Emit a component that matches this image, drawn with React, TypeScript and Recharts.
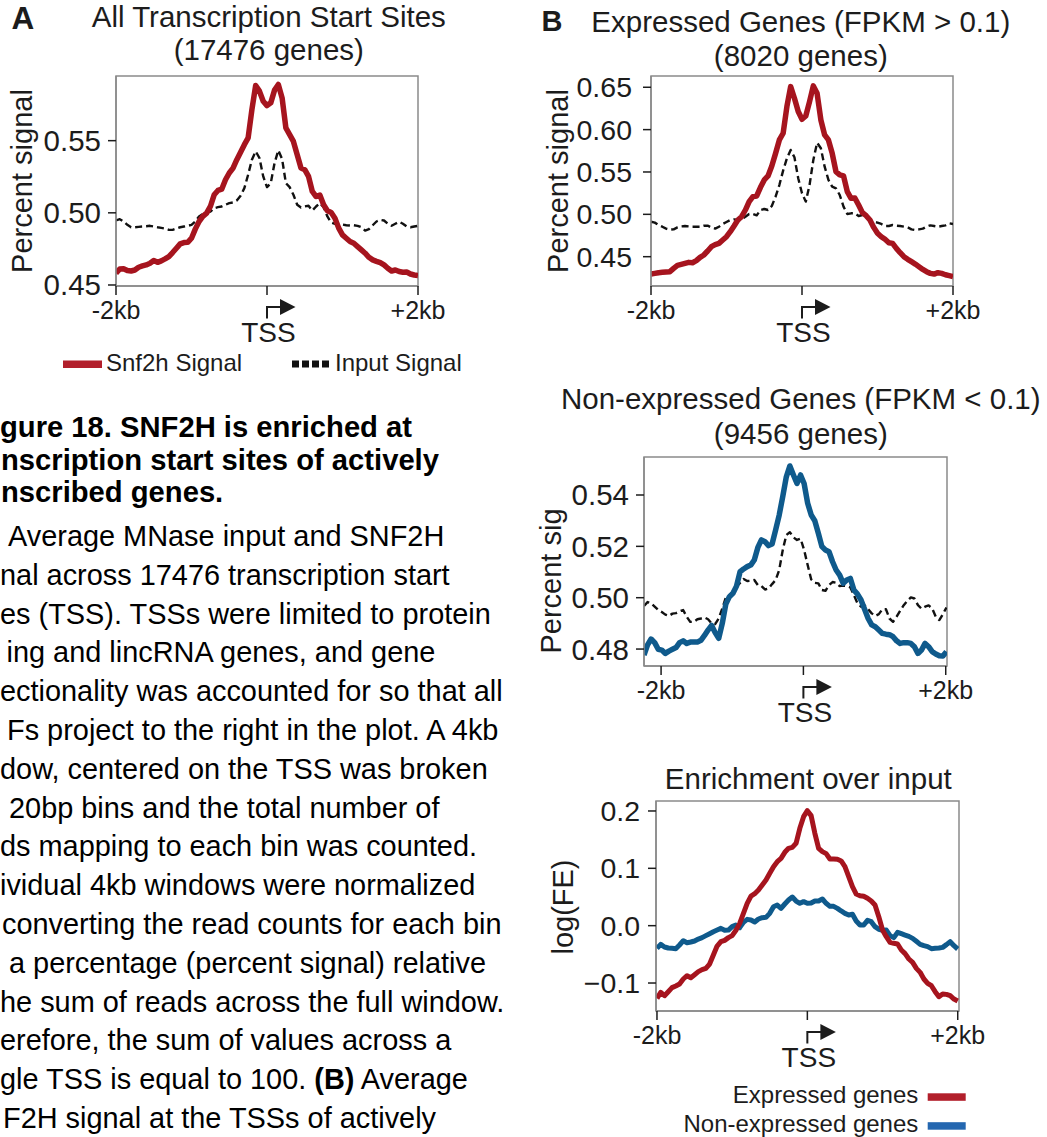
import React from 'react';
import { LineChart, Line, XAxis, YAxis, ReferenceArea } from 'recharts';

const FONT = '"Liberation Sans", Arial, Helvetica, sans-serif';
const RED = '#a6141e';
const BLUE = '#0f5a8c';
const INK = '#1c1c1c';
const FRAME = '#8a8a8a';

// bin positions, bp relative to the TSS
const binsMain = Array.from({ length: 81 }, (_, i) => -2000 + i * 50);
const binsNonExpr = Array.from({ length: 86 }, (_, i) => -2240 + i * 50);

const xTicks = [-2000, 0, 2000];
const xTickLabels = ['-2kb', 'TSS', '+2kb'];

const yTicksAll = [0.45, 0.5, 0.55];
const yTicksExpr = [0.45, 0.5, 0.55, 0.6, 0.65];
const yTicksNon = [0.48, 0.5, 0.52, 0.54];
const yTicksEnrich = [-0.1, 0, 0.1, 0.2];

// A: all TSS
const allSnf2h = [
  0.4581, 0.4611, 0.4613, 0.4600, 0.4597, 0.4604, 0.4623, 0.4632, 0.4639, 0.4650,
  0.4669, 0.4657, 0.4667, 0.4681, 0.4697, 0.4725, 0.4755, 0.4785, 0.4794, 0.4796,
  0.4824, 0.4887, 0.4940, 0.4975, 0.4998, 0.5044, 0.5125, 0.5155, 0.5164, 0.5229,
  0.5276, 0.5310, 0.5368, 0.5419, 0.5472, 0.5519, 0.5715, 0.5882, 0.5843, 0.5773,
  0.5743, 0.5762, 0.5850, 0.5889, 0.5796, 0.5588, 0.5542, 0.5495, 0.5403, 0.5310,
  0.5299, 0.5252, 0.5148, 0.5113, 0.5123, 0.5056, 0.5014, 0.5002, 0.4963, 0.4894,
  0.4847, 0.4824, 0.4801, 0.4789, 0.4766, 0.4743, 0.4720, 0.4692, 0.4674, 0.4664,
  0.4655, 0.4639, 0.4616, 0.4597, 0.4604, 0.4593, 0.4588, 0.4590, 0.4576, 0.4569,
  0.4565,
];
const allInput = [
  0.4947, 0.4956, 0.4940, 0.4917, 0.4900, 0.4900, 0.4903, 0.4905, 0.4907, 0.4910,
  0.4905, 0.4900, 0.4896, 0.4891, 0.4882, 0.4882, 0.4891, 0.4900, 0.4905, 0.4910,
  0.4917, 0.4940, 0.4975, 0.4993, 0.5002, 0.5009, 0.5032, 0.5039, 0.5044, 0.5056,
  0.5067, 0.5072, 0.5086, 0.5118, 0.5171, 0.5264, 0.5368, 0.5426, 0.5380, 0.5252,
  0.5178, 0.5206, 0.5345, 0.5433, 0.5373, 0.5206, 0.5178, 0.5125, 0.5056, 0.5037,
  0.5044, 0.5049, 0.5016, 0.5044, 0.5067, 0.5039, 0.4975, 0.4933, 0.4924, 0.4921,
  0.4919, 0.4914, 0.4912, 0.4914, 0.4910, 0.4900, 0.4877, 0.4887, 0.4914, 0.4940,
  0.4951, 0.4947, 0.4924, 0.4910, 0.4924, 0.4938, 0.4924, 0.4905, 0.4900, 0.4905,
  0.4910,
];

// B: expressed genes
const exprSnf2h = [
  0.4295, 0.4303, 0.4311, 0.4315, 0.4319, 0.4323, 0.4362, 0.4398, 0.4409, 0.4421,
  0.4433, 0.4429, 0.4453, 0.4492, 0.4520, 0.4567, 0.4618, 0.4642, 0.4657, 0.4697,
  0.4736, 0.4795, 0.4862, 0.4933, 0.4972, 0.5051, 0.5150, 0.5209, 0.5217, 0.5319,
  0.5406, 0.5453, 0.5571, 0.5720, 0.5878, 0.5957, 0.6272, 0.6508, 0.6370, 0.6213,
  0.6122, 0.6161, 0.6331, 0.6516, 0.6429, 0.6114, 0.5937, 0.5878, 0.5720, 0.5504,
  0.5465, 0.5453, 0.5268, 0.5189, 0.5193, 0.5110, 0.5020, 0.4984, 0.4933, 0.4846,
  0.4776, 0.4736, 0.4705, 0.4665, 0.4657, 0.4598, 0.4547, 0.4500, 0.4469, 0.4441,
  0.4413, 0.4382, 0.4350, 0.4323, 0.4303, 0.4295, 0.4311, 0.4303, 0.4287, 0.4276,
  0.4264,
];
const exprInput = [
  0.4913, 0.4902, 0.4874, 0.4854, 0.4831, 0.4819, 0.4823, 0.4846, 0.4858, 0.4862,
  0.4858, 0.4854, 0.4854, 0.4854, 0.4866, 0.4866, 0.4846, 0.4831, 0.4854, 0.4886,
  0.4909, 0.4933, 0.4941, 0.4933, 0.4933, 0.4972, 0.5004, 0.5004, 0.4988, 0.5051,
  0.5063, 0.5051, 0.5098, 0.5209, 0.5346, 0.5516, 0.5661, 0.5760, 0.5673, 0.5425,
  0.5248, 0.5150, 0.5346, 0.5642, 0.5846, 0.5780, 0.5563, 0.5406, 0.5327, 0.5307,
  0.5228, 0.5091, 0.5004, 0.5012, 0.5012, 0.4980, 0.4992, 0.4965, 0.4933, 0.4913,
  0.4902, 0.4886, 0.4862, 0.4862, 0.4874, 0.4866, 0.4862, 0.4854, 0.4846, 0.4823,
  0.4815, 0.4823, 0.4831, 0.4854, 0.4870, 0.4862, 0.4854, 0.4862, 0.4870, 0.4894,
  0.4886,
];

// non-expressed genes
const nonSnf2h = [
  0.4777, 0.4816, 0.4839, 0.4825, 0.4799, 0.4796, 0.4783, 0.4792, 0.4799, 0.4806,
  0.4825, 0.4832, 0.4822, 0.4827, 0.4827, 0.4827, 0.4834, 0.4853, 0.4874, 0.4892,
  0.4864, 0.4842, 0.4900, 0.4975, 0.5004, 0.5017, 0.5045, 0.5101, 0.5112, 0.5121,
  0.5127, 0.5147, 0.5196, 0.5225, 0.5218, 0.5203, 0.5209, 0.5264, 0.5322, 0.5394,
  0.5471, 0.5513, 0.5478, 0.5445, 0.5478, 0.5445, 0.5368, 0.5322, 0.5300, 0.5251,
  0.5199, 0.5186, 0.5179, 0.5140, 0.5108, 0.5088, 0.5056, 0.5069, 0.5075, 0.5030,
  0.5014, 0.4991, 0.4955, 0.4919, 0.4894, 0.4887, 0.4874, 0.4861, 0.4858, 0.4856,
  0.4848, 0.4832, 0.4822, 0.4825, 0.4825, 0.4822, 0.4809, 0.4783, 0.4796, 0.4822,
  0.4809, 0.4790, 0.4781, 0.4774, 0.4773, 0.4790,
];
const nonInput = [
  0.4968, 0.4983, 0.4978, 0.4965, 0.4952, 0.4944, 0.4934, 0.4929, 0.4938, 0.4940,
  0.4947, 0.4952, 0.4926, 0.4906, 0.4906, 0.4916, 0.4919, 0.4923, 0.4916, 0.4900,
  0.4897, 0.4919, 0.4958, 0.5001, 0.5010, 0.5023, 0.5043, 0.5058, 0.5073, 0.5065,
  0.5066, 0.5069, 0.5049, 0.5045, 0.5032, 0.5036, 0.5053, 0.5069, 0.5108, 0.5186,
  0.5244, 0.5255, 0.5235, 0.5225, 0.5230, 0.5186, 0.5127, 0.5071, 0.5058, 0.5056,
  0.5030, 0.5027, 0.5049, 0.5061, 0.5058, 0.5045, 0.5047, 0.5045, 0.5040, 0.5010,
  0.4978, 0.4965, 0.4970, 0.4955, 0.4939, 0.4929, 0.4936, 0.4955, 0.4955, 0.4919,
  0.4906, 0.4926, 0.4949, 0.4971, 0.4988, 0.5001, 0.4997, 0.4971, 0.4957, 0.4965,
  0.4970, 0.4958, 0.4926, 0.4913, 0.4936, 0.4962,
];

// log fold enrichment over input
const enrichExpr = [
  -0.1267, -0.1163, -0.1221, -0.1151, -0.1081, -0.1052, -0.1017, -0.0930, -0.0872, -0.0907,
  -0.0855, -0.0802, -0.0767, -0.0744, -0.0669, -0.0512, -0.0355, -0.0279, -0.0256, -0.0209,
  -0.0174, -0.0081, 0.0041, 0.0215, 0.0390, 0.0517, 0.0558, 0.0622, 0.0709, 0.0797,
  0.0913, 0.1029, 0.1116, 0.1174, 0.1279, 0.1349, 0.1366, 0.1436, 0.1698, 0.1901,
  0.2006, 0.1919, 0.1610, 0.1349, 0.1291, 0.1256, 0.1163, 0.1163, 0.1157, 0.1128,
  0.1029, 0.0855, 0.0680, 0.0552, 0.0523, 0.0512, 0.0477, 0.0430, 0.0360, 0.0157,
  -0.0076, -0.0192, -0.0291, -0.0308, -0.0320, -0.0424, -0.0488, -0.0581, -0.0640, -0.0744,
  -0.0814, -0.0930, -0.1006, -0.1047, -0.1151, -0.1238, -0.1192, -0.1198, -0.1221, -0.1279,
  -0.1314,
];
const enrichNon = [
  -0.0395, -0.0326, -0.0372, -0.0390, -0.0395, -0.0401, -0.0337, -0.0262, -0.0297, -0.0285,
  -0.0267, -0.0233, -0.0209, -0.0174, -0.0140, -0.0105, -0.0076, -0.0047, -0.0081, -0.0076,
  -0.0017, 0.0012, -0.0035, 0.0058, 0.0110, 0.0099, 0.0064, 0.0116, 0.0140, 0.0145,
  0.0215, 0.0331, 0.0360, 0.0302, 0.0378, 0.0448, 0.0500, 0.0430, 0.0390, 0.0419,
  0.0390, 0.0395, 0.0430, 0.0430, 0.0465, 0.0390, 0.0337, 0.0337, 0.0302, 0.0256,
  0.0215, 0.0186, 0.0198, 0.0081, 0.0012, 0.0012, 0.0093, 0.0070, -0.0017, -0.0064,
  -0.0081, -0.0076, -0.0174, -0.0209, -0.0116, -0.0140, -0.0163, -0.0186, -0.0221, -0.0273,
  -0.0326, -0.0349, -0.0366, -0.0401, -0.0395, -0.0390, -0.0378, -0.0331, -0.0279, -0.0349,
  -0.0407,
];

const rowsAll = binsMain.map((pos, i) => ({ pos, snf2h: allSnf2h[i], input: allInput[i] }));
const rowsExpr = binsMain.map((pos, i) => ({ pos, snf2h: exprSnf2h[i], input: exprInput[i] }));
const rowsNon = binsNonExpr.map((pos, i) => ({ pos, snf2h: nonSnf2h[i], input: nonInput[i] }));
const rowsEnrich = binsMain.map((pos, i) => ({ pos, expr: enrichExpr[i], non: enrichNon[i] }));

const Y_W = 110;
const PAD_T = 10;
const PAD_R = 40;
const X_H = 75;

const XTick = (props: any) => {
  const { x, y, payload } = props;
  const axisY = y - 9;
  const label = xTickLabels[xTicks.indexOf(payload.value)];
  if (payload.value === 0) {
    return (
      <g>
        <path d={`M${x} ${axisY + 32.5}V${axisY + 21}H${x + 15}`} stroke={INK} strokeWidth={2} fill="none" />
        <path d={`M${x + 13} ${axisY + 13}L${x + 28.5} ${axisY + 21}L${x + 13} ${axisY + 29}Z`} fill={INK} />
        <text x={x + 1.5} y={axisY + 56} textAnchor="middle" fontSize={28} fill={INK} fontFamily={FONT}>
          {label}
        </text>
      </g>
    );
  }
  return (
    <text x={x} y={axisY + 33} textAnchor="middle" fontSize={25} fill={INK} fontFamily={FONT}>
      {label}
    </text>
  );
};

type Series = { key: string; color: string; width: number; dash?: string };

const ProfilePanel = ({ box, rows, xDomain, yDomain, yTicks, digits, tickMargin, tickFont, series }: any) => {
  const fmt = (v: number) => (v < 0 ? '\u2212' + Math.abs(v).toFixed(digits) : v.toFixed(digits));
  const w = box.w + Y_W + PAD_R;
  const h = box.h + PAD_T + X_H;
  return (
    <div style={{ position: 'absolute', left: box.x - Y_W, top: box.y - PAD_T, width: w, height: h }}>
      <LineChart width={w} height={h} data={rows} margin={{ top: PAD_T, right: PAD_R, left: 0, bottom: 0 }}>
        <XAxis
          dataKey="pos"
          type="number"
          domain={xDomain}
          allowDataOverflow
          ticks={xTicks}
          interval={0}
          height={X_H}
          tickSize={9}
          tickMargin={0}
          axisLine={{ stroke: FRAME, strokeWidth: 1.5 }}
          tickLine={{ stroke: INK, strokeWidth: 1.5 }}
          tick={<XTick />}
        />
        <YAxis
          type="number"
          domain={yDomain}
          allowDataOverflow
          ticks={yTicks}
          interval={0}
          width={Y_W}
          tickSize={8}
          tickMargin={tickMargin}
          tickFormatter={fmt}
          axisLine={{ stroke: FRAME, strokeWidth: 1.5 }}
          tickLine={{ stroke: INK, strokeWidth: 1.5 }}
          tick={{ fill: INK, fontSize: tickFont, fontFamily: FONT }}
        />
        <ReferenceArea
          x1={xDomain[0]}
          x2={xDomain[1]}
          y1={yDomain[0]}
          y2={yDomain[1]}
          fill="none"
          stroke={FRAME}
          strokeWidth={1.5}
        />
        {series.map((s: Series) => (
          <Line
            key={s.key}
            dataKey={s.key}
            type="linear"
            stroke={s.color}
            strokeWidth={s.width}
            strokeDasharray={s.dash}
            strokeLinejoin="round"
            dot={false}
            activeDot={false}
            isAnimationActive={false}
          />
        ))}
      </LineChart>
    </div>
  );
};

const inputSeries: Series = { key: 'input', color: '#111', width: 2.4, dash: '7 4' };

const captionLines: { x: number; y: number; bold?: boolean; parts: [string, boolean][] }[] = [
  { x: 0, y: 436.7, bold: true, parts: [['gure 18. SNF2H is enriched at', true]] },
  { x: 1, y: 470, bold: true, parts: [['nscription start sites of actively', true]] },
  { x: 1, y: 501.7, bold: true, parts: [['nscribed genes.', true]] },
  { x: 8, y: 546, parts: [['Average MNase input and SNF2H', false]] },
  { x: 0, y: 584.8, parts: [['nal across 17476 transcription start', false]] },
  { x: 0, y: 623.6, parts: [['es (TSS). TSSs were limited to protein', false]] },
  { x: 6.5, y: 662.4, parts: [['ing and lincRNA genes, and gene', false]] },
  { x: 0, y: 701.2, parts: [['ectionality was accounted for so that all', false]] },
  { x: 7, y: 740, parts: [['Fs project to the right in the plot. A 4kb', false]] },
  { x: 0, y: 778.8, parts: [['dow, centered on the TSS was broken', false]] },
  { x: 9, y: 817.6, parts: [['20bp bins and the total number of', false]] },
  { x: 0, y: 856.4, parts: [['ds mapping to each bin was counted.', false]] },
  { x: 0, y: 895.2, parts: [['ividual 4kb windows were normalized', false]] },
  { x: 2, y: 934, parts: [['converting the read counts for each bin', false]] },
  { x: 9, y: 972.8, parts: [['a percentage (percent signal) relative', false]] },
  { x: 0, y: 1011.6, parts: [['he sum of reads across the full window.', false]] },
  { x: 0, y: 1050.4, parts: [['erefore, the sum of values across a', false]] },
  { x: 0, y: 1089.2, parts: [['gle TSS is equal to 100. ', false], ['(B)', true], [' Average', false]] },
  { x: 3, y: 1128, parts: [['F2H signal at the TSSs of actively', false]] },
];

const Annotations = () => {
  const t = { fontFamily: FONT, fill: INK } as const;
  const yLabel = (bx: number, cy: number, text: string) => (
    <text transform={`rotate(-90 ${bx} ${cy})`} x={bx} y={cy} textAnchor="middle" fontSize={29} {...t}>
      {text}
    </text>
  );
  return (
    <svg width={1047} height={1137} style={{ position: 'absolute', left: 0, top: 0 }}>
      {/* panel letters */}
      <text x={11.5} y={29.3} fontSize={31.5} fontWeight="bold" {...t}>A</text>
      <text x={541.5} y={30.7} fontSize={29} fontWeight="bold" {...t}>B</text>

      {/* titles */}
      <text x={268.8} y={26.7} textAnchor="middle" fontSize={29.5} {...t}>All Transcription Start Sites</text>
      <text x={268.8} y={60} textAnchor="middle" fontSize={29.5} {...t}>(17476 genes)</text>
      <text x={800.8} y={31.7} textAnchor="middle" fontSize={29.5} {...t}>Expressed Genes (FPKM &gt; 0.1)</text>
      <text x={800.8} y={66} textAnchor="middle" fontSize={29.5} {...t}>(8020 genes)</text>
      <text x={800.8} y={409.3} textAnchor="middle" fontSize={29.5} {...t}>Non-expressed Genes (FPKM &lt; 0.1)</text>
      <text x={800.8} y={444.3} textAnchor="middle" fontSize={29.5} {...t}>(9456 genes)</text>
      <text x={808.3} y={789.3} textAnchor="middle" fontSize={29.5} {...t}>Enrichment over input</text>

      {/* y axis titles */}
      {yLabel(32, 181, 'Percent signal')}
      {yLabel(567.5, 181, 'Percent signal')}
      {yLabel(561, 581, 'Percent sig')}
      {yLabel(573, 907, 'log(FE)')}

      {/* legend A */}
      <rect x={63} y={360.5} width={39} height={7.5} fill="#b21f2b" />
      <text x={106} y={370.7} fontSize={24} {...t}>Snf2h Signal</text>
      <line x1={292} y1={364} x2={331} y2={364} stroke="#111" strokeWidth={7} strokeDasharray="7 3" />
      <text x={335} y={370.7} fontSize={24} {...t}>Input Signal</text>

      {/* legend enrichment */}
      <text x={918.3} y={1102.7} textAnchor="end" fontSize={24} {...t}>Expressed genes</text>
      <rect x={927.7} y={1093.3} width={38} height={7.5} fill="#b21f2b" />
      <text x={918.3} y={1131.7} textAnchor="end" fontSize={24} {...t}>Non-expressed genes</text>
      <rect x={927.7} y={1122.2} width={38} height={7.5} fill="#2467b0" />

      {/* caption */}
      {captionLines.map((ln, i) => (
        <text
          key={i}
          x={ln.x}
          y={ln.y}
          fontSize={ln.bold ? 29.2 : 28.9}
          fontFamily={FONT}
          fill="#000"
          fontWeight={ln.bold ? 'bold' : 'normal'}
        >
          {ln.parts.map(([s, b], j) => (
            <tspan key={j} fontWeight={b ? 'bold' : undefined}>{s}</tspan>
          ))}
        </text>
      ))}
    </svg>
  );
};

export default function App() {
  return (
    <div style={{ position: 'absolute', left: 0, top: 0, width: 1047, height: 1137, overflow: 'hidden', background: '#fff', fontFamily: FONT }}>
      <Annotations />
      <ProfilePanel
        box={{ x: 116, y: 76, w: 302, h: 210 }}
        rows={rowsAll}
        xDomain={[-2000, 2000]}
        yDomain={[0.4493, 0.5948]}
        yTicks={yTicksAll}
        digits={2}
        tickMargin={7}
        tickFont={29.5}
        series={[inputSeries, { key: 'snf2h', color: RED, width: 5.5 }]}
      />
      <ProfilePanel
        box={{ x: 651, y: 76, w: 302, h: 210 }}
        rows={rowsExpr}
        xDomain={[-2000, 2000]}
        yDomain={[0.4154, 0.6633]}
        yTicks={yTicksExpr}
        digits={2}
        tickMargin={11}
        tickFont={28.5}
        series={[inputSeries, { key: 'snf2h', color: RED, width: 5.5 }]}
      />
      <ProfilePanel
        box={{ x: 644, y: 457, w: 303, h: 209 }}
        rows={rowsNon}
        xDomain={[-2240, 2018]}
        yDomain={[0.4734, 0.5548]}
        yTicks={yTicksNon}
        digits={2}
        tickMargin={7}
        tickFont={29.5}
        series={[inputSeries, { key: 'snf2h', color: BLUE, width: 5.5 }]}
      />
      <ProfilePanel
        box={{ x: 656, y: 801, w: 303, h: 210 }}
        rows={rowsEnrich}
        xDomain={[-2013, 2017]}
        yDomain={[-0.1488, 0.2174]}
        yTicks={yTicksEnrich}
        digits={1}
        tickMargin={8}
        tickFont={28.5}
        series={[{ key: 'non', color: BLUE, width: 5 }, { key: 'expr', color: RED, width: 5 }]}
      />
    </div>
  );
}
